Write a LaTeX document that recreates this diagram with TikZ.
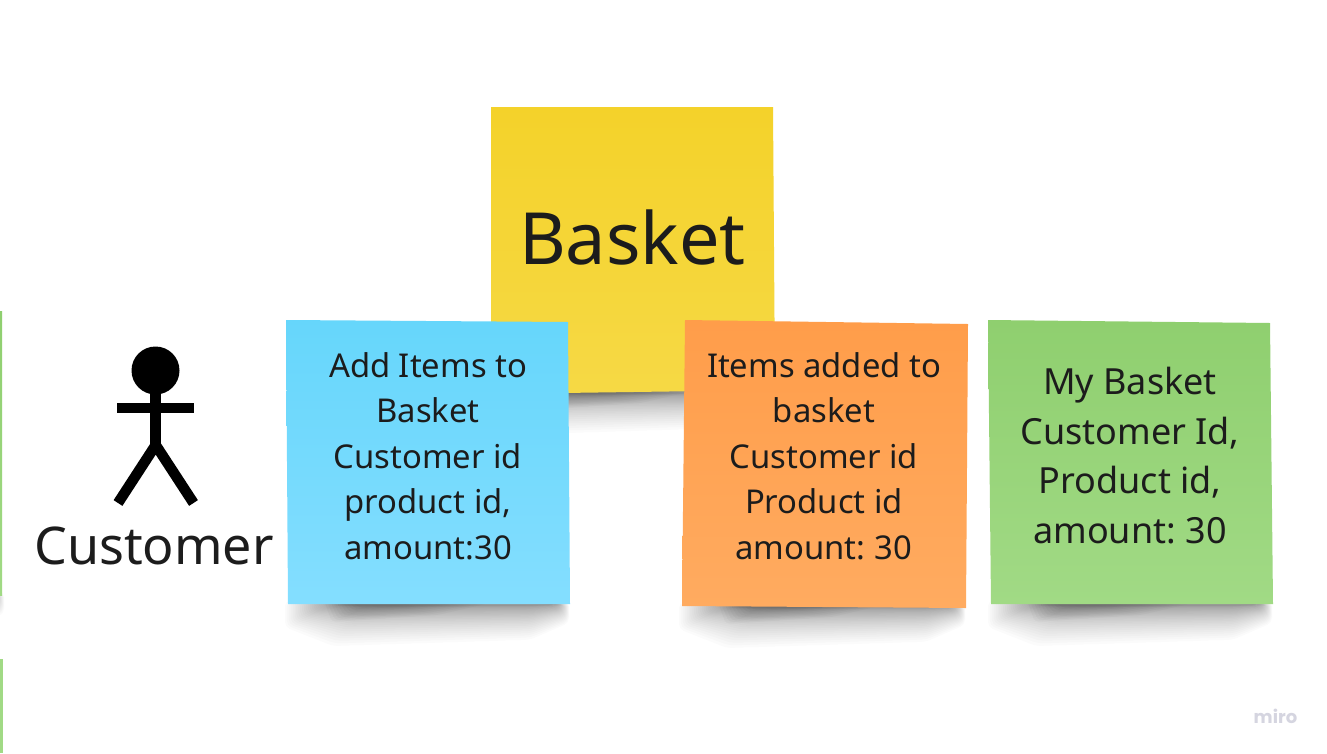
\documentclass[tikz,border=0pt]{standalone}
\usepackage{fontspec}
\setmainfont{Noto Sans}
\newfontfamily\mirofont{Poppins}
\definecolor{ink}{HTML}{1C1C1C}
\definecolor{yellowa}{HTML}{F4D22A}
\definecolor{yellowb}{HTML}{F6D945}
\definecolor{bluea}{HTML}{66D6FB}
\definecolor{blueb}{HTML}{84DEFF}
\definecolor{orangea}{HTML}{FF9D4A}
\definecolor{orangeb}{HTML}{FFAB60}
\definecolor{greena}{HTML}{8FCF6F}
\definecolor{greenb}{HTML}{A1DA85}
\definecolor{miroink}{HTML}{D5D5E0}
\tikzset{
  x=1pt,y=-1pt,
  notetext/.style={align=center,text=ink,inner sep=0pt,font=\fontsize{32.8}{45.5}\selectfont},
  limb/.style={draw=black,line width=10.5pt},
}
\newcommand{\noteshadow}[3]{% left, right, bottom
  \foreach \i in {0,...,29}{
    \pgfmathsetmacro{\dep}{2+40*(1-\i/30)*(1-\i/30)}
    \fill[black,opacity=0.016,rounded corners=5pt]
      ({#1-3+\i*1.9},{#3-3}) -- ({#1-3+\i*1.9},{#3+0.55*\dep})
      -- ({#1+45+\i*1.9},{#3+\dep}) -- ({#2-40},{#3+0.85*\dep})
      -- ({#2-1-\i*0.5},{#3+0.45*\dep}) -- ({#2-1-\i*0.5},{#3-3}) -- cycle;
  }
  \foreach \i in {0,...,9}{
    \fill[black,opacity=0.022,rounded corners=4pt]
      ({#1+36+\i*3},{#3-3}) -- ({#1+44+\i*3},{#3+18-\i*1.6})
      -- ({#1+150-\i*5},{#3+11-\i}) -- ({#1+210-\i*6},{#3-3}) -- cycle;
  }
}
\begin{document}
\begin{tikzpicture}
\useasboundingbox (0,0) rectangle (1327,753);
\fill[white] (0,0) rectangle (1327,753);
% left slivers
\noteshadow{-280}{5}{595}
\shade[top color=greena,bottom color=greenb] (0,311) -- (2,311) -- (2,595) -- (0,595) -- cycle;
\fill[greenb] (0,659) -- (3,659) -- (3,753) -- (0,753) -- cycle;
% shadows
\noteshadow{491}{775}{392}
\noteshadow{288}{570}{604}
\noteshadow{682}{966}{606}
\noteshadow{991}{1273}{604}
% notes
\shade[top color=yellowa,bottom color=yellowb] (491,107) -- (773,107) -- (775,390) -- (491,394) -- cycle;
\shade[top color=bluea,bottom color=blueb] (286,320) -- (568,322) -- (570,604) -- (288,604) -- cycle;
\shade[top color=orangea,bottom color=orangeb] (685,320) -- (968,324) -- (966,608) -- (682,606) -- cycle;
\shade[top color=greena,bottom color=greenb] (988,320) -- (1270,323) -- (1273,604) -- (991,604) -- cycle;
% texts
\node[notetext,font=\fontsize{72}{80}\selectfont] (basket) at (632.5,237.5) {Basket};
\node[notetext] (add) at (428,456) {Add Items to\\Basket\\Customer id\\product id,\\amount:30};
\node[notetext] (added) at (824,456) {Items added to\\basket\\Customer id\\Product id\\amount:\kern-2pt{} 30};
\node[notetext,font=\fontsize{36}{49.7}\selectfont] (my) at (1130,455.5) {My Basket\\Customer Id,\\Product id,\\amount:\kern-3pt{} 30};
\node[notetext,font=\fontsize{52}{60}\selectfont] (customer) at (154,546) {Customer};
% actor
\fill[black] (155.5,370.5) circle (24);
\draw[limb] (155.7,392) -- (155.7,445);
\draw[limb] (117,408) -- (194,408);
\draw[limb,line join=miter] (118,503) -- (155.7,445) -- (193.5,503);
% watermark
\node[inner sep=0pt,text=miroink,font=\mirofont\bfseries\fontsize{18}{18}\selectfont] (miro) at (1275.5,716) {miro};
\end{tikzpicture}
\end{document}
